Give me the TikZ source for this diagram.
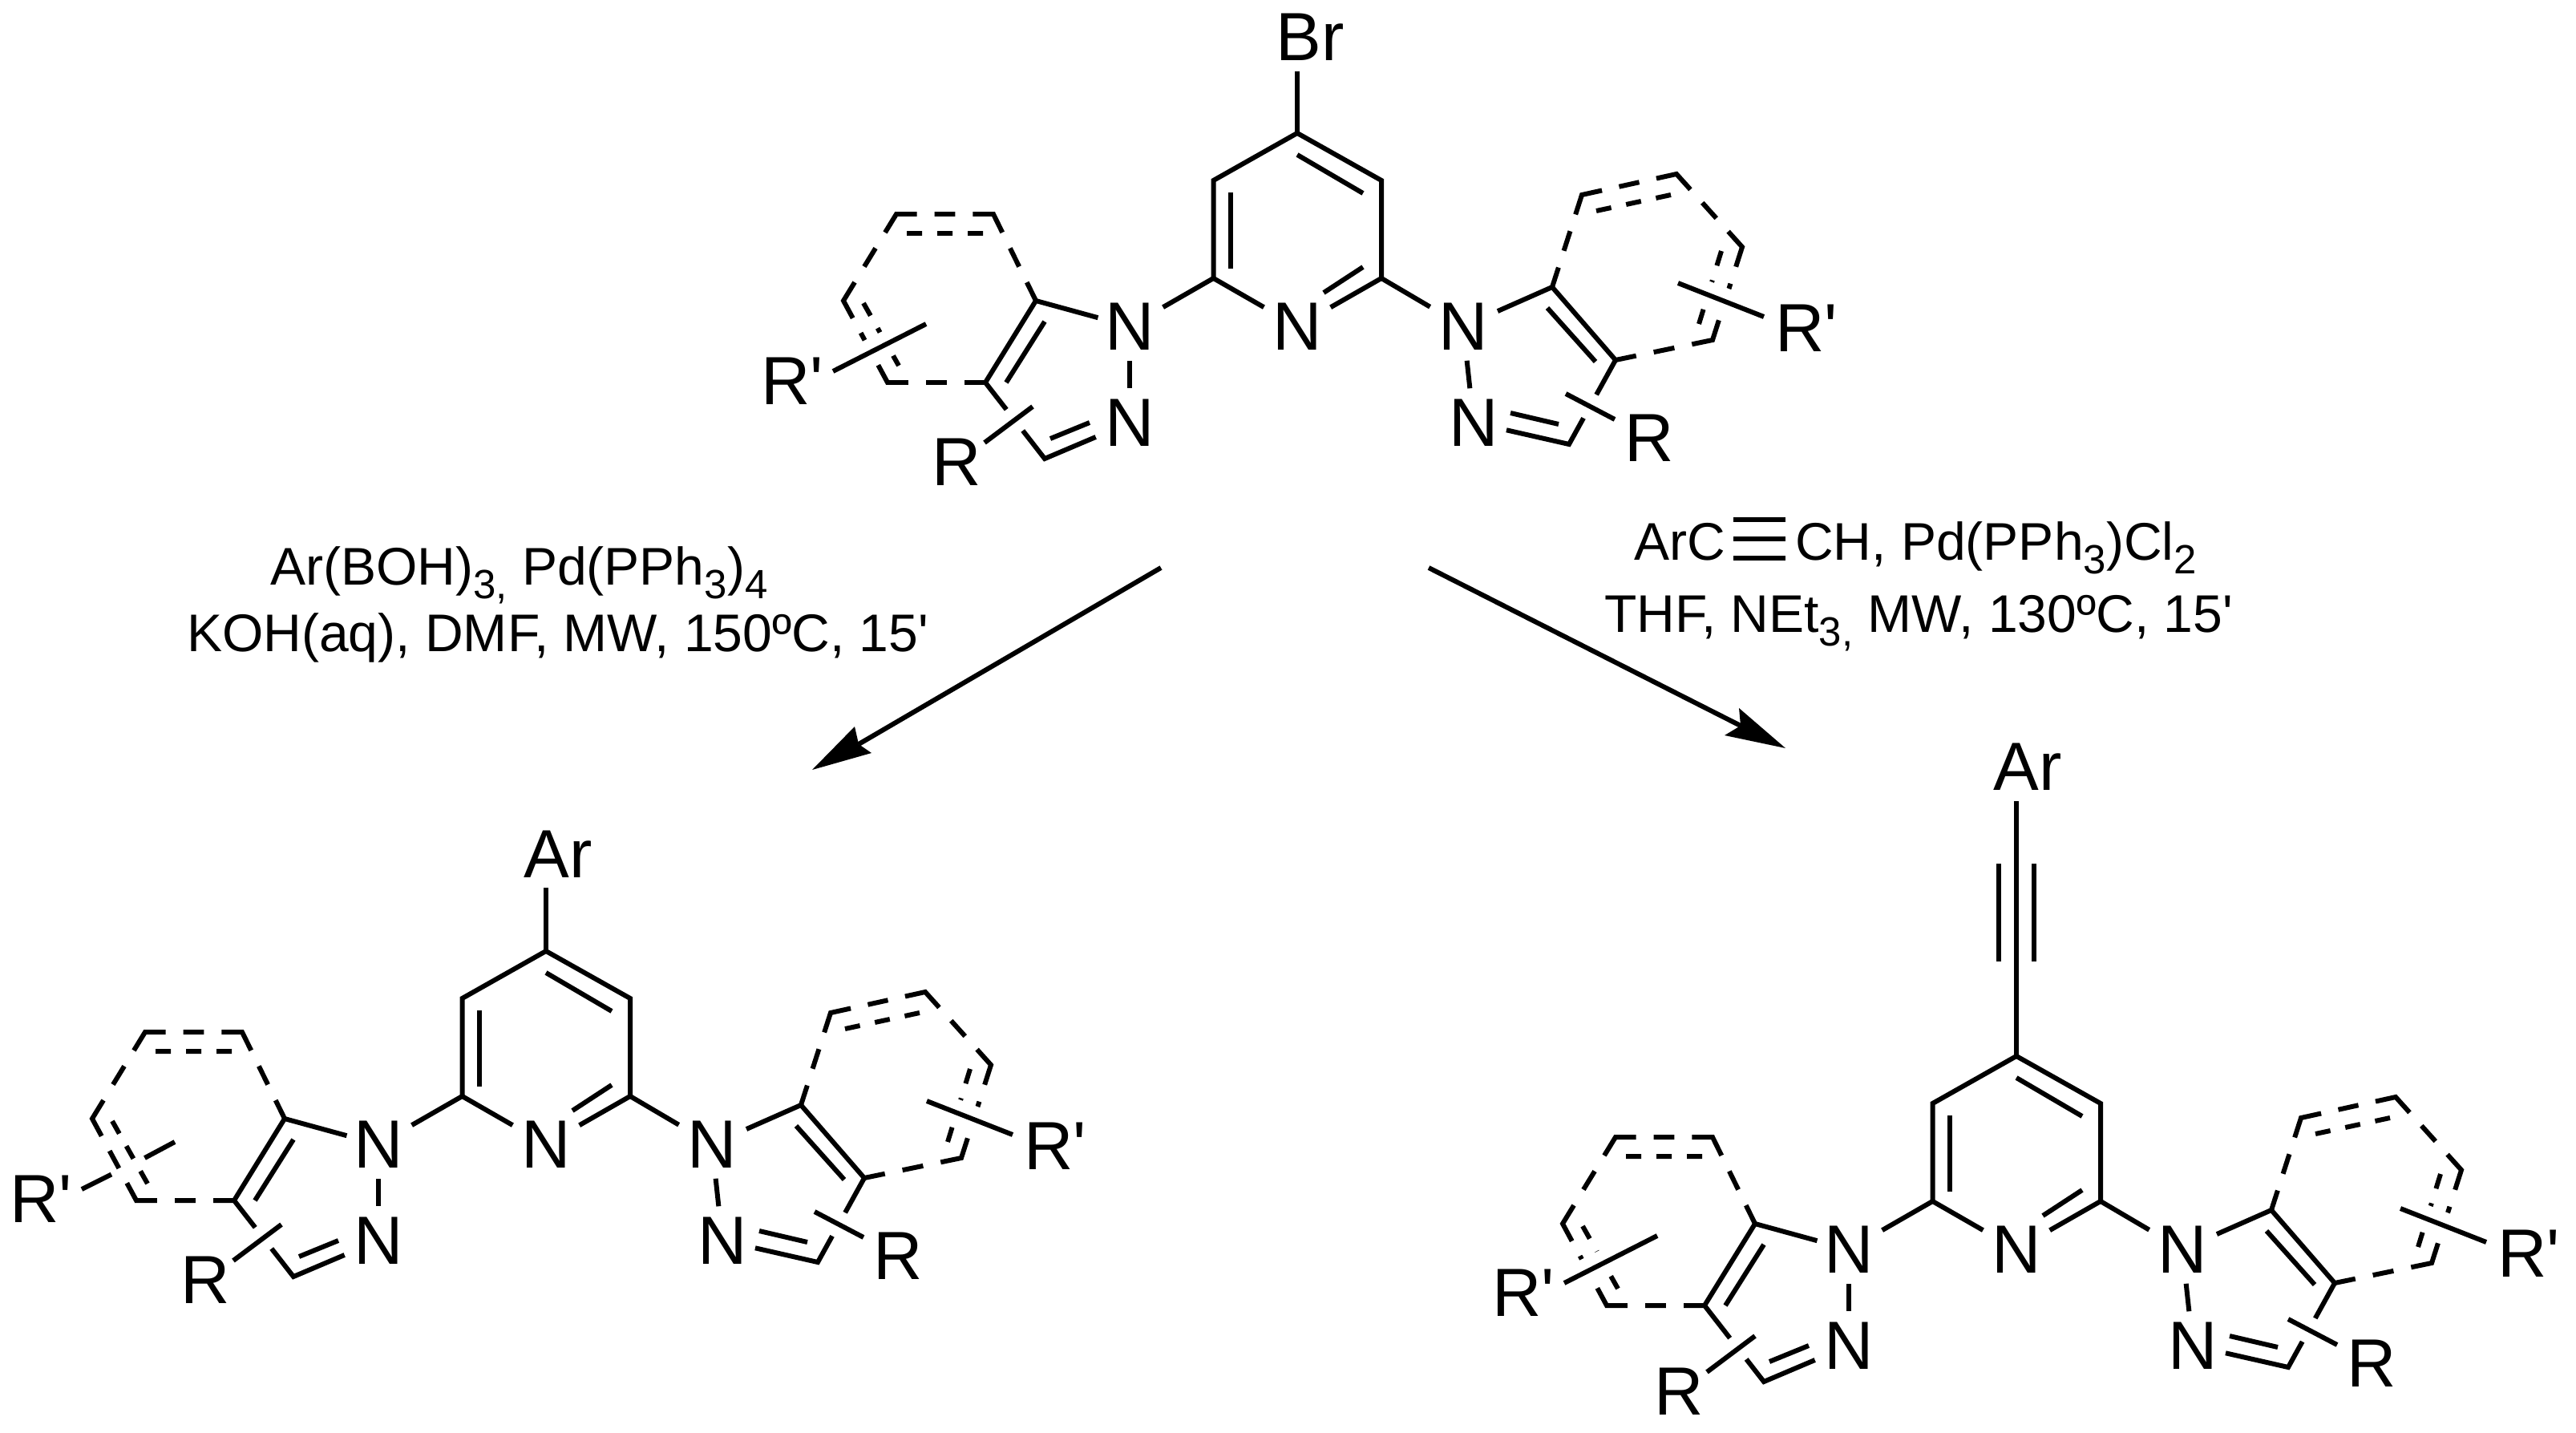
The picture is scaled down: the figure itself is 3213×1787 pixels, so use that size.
\documentclass[tikz,border=0pt]{standalone}
\usepackage{fontspec}
\usetikzlibrary{calc}
\newfontfamily\chemfont{Liberation Sans}
\tikzset{
  bond/.style={line width=3.41pt,line join=miter,miter limit=10},
  halo/.style={line width=18.8pt,white},
  atom/.style={font=\chemfont\fontsize{48.4}{58}\selectfont,inner sep=0pt,outer sep=0pt},
  reag/.style={font=\chemfont\fontsize{37.6}{45}\selectfont,inner sep=0pt,outer sep=0pt,anchor=base west},
  sa/.style={shorten <=#1*0.56906pt},
  se/.style={shorten >=#1*0.56906pt}
}
\newcommand\lowsub[1]{\raisebox{-9.7pt}{\fontsize{29}{32}\selectfont #1}}
\newcommand\dashchain[6]{%
  \draw[bond] (#1)--($(#1)!.2125!(#2)$)
    ($(#1)!.39375!(#2)$)--($(#1)!.60625!(#2)$)
    ($(#2)!.2125!(#1)$)--(#2)--($(#2)!.2125!(#3)$)
    ($(#2)!.39375!(#3)$)--($(#2)!.60625!(#3)$)
    ($(#3)!.2125!(#2)$)--(#3)--($(#3)!.2125!(#4)$)
    ($(#3)!.39375!(#4)$)--($(#3)!.60625!(#4)$)
    ($(#4)!.2125!(#3)$)--(#4)--($(#4)!.2125!(#5)$)
    ($(#4)!.39375!(#5)$)--($(#4)!.60625!(#5)$)
    ($(#5)!.2125!(#4)$)--(#5)--($(#5)!.2125!(#6)$)
    ($(#5)!.39375!(#6)$)--($(#5)!.60625!(#6)$)
    ($(#6)!.2125!(#5)$)--(#6);}
\newcommand\dashinner[2]{%
  \draw[bond] (#1)--($(#1)!.2!(#2)$) ($(#1)!.4!(#2)$)--($(#1)!.6!(#2)$) ($(#1)!.8!(#2)$)--(#2);}
% #1 name, #2 #3 offset, #4 left R shift, #5 left R' shift, #6 right R shift, #7 right R' shift, #8 1 = left R' line runs under the ring
\newcommand\mol[8]{%
\begin{scope}[shift={(#2,#3)}]
  \node[atom] (#1n) at (1618,407) {N};
  \node[atom] (#1nl) at (1409,407) {N};
  \node[atom] (#1nm) at (1409,527) {N};
  \node[atom] (#1nr) at (1825,407) {N};
  \node[atom] (#1ns) at (1838,527) {N};
  % pyridine
  \coordinate (#1c4) at (1618,166);
  \coordinate (#1c3l) at (1513.5,225);
  \coordinate (#1c3r) at (1723,225);
  \coordinate (#1c2l) at (1513.5,347);
  \coordinate (#1c2r) at (1723,347);
  \coordinate (#1pa) at (1535,240);
  \coordinate (#1pb) at (1535,335);
  \coordinate (#1pc) at (1618,193);
  \coordinate (#1pd) at (1700,241);
  \coordinate (#1pe) at (1651,365);
  \coordinate (#1pf) at (1700,333);
  \draw[bond] (#1c2l)--(#1c3l)--(#1c4)--(#1c3r)--(#1c2r);
  \draw[bond,sa=48,se=48] (#1nl.center)--(#1c2l)--(#1n.center);
  \draw[bond,sa=48,se=48] (#1nr.center)--(#1c2r)--(#1n.center);
  \draw[bond] (#1pa)--(#1pb);
  \draw[bond] (#1pc)--(#1pd);
  \draw[bond] (#1pe)--(#1pf);
  % left bicycle
  \coordinate (#1a7a) at (1292,375);
  \coordinate (#1a3a) at (1229,477);
  \coordinate (#1a3) at (1303,572);
  \coordinate (#1a7) at (1239,267);
  \coordinate (#1a6) at (1118,267);
  \coordinate (#1a5) at (1052,375);
  \coordinate (#1a4) at (1107,477);
  \coordinate (#1aa) at (1255,477);
  \coordinate (#1ab) at (1303,401);
  \coordinate (#1ac) at (1310,547);
  \coordinate (#1ad) at (1359,527);
  \coordinate (#1ae) at (1131,291);
  \coordinate (#1af) at (1226,291);
  \coordinate (#1ag) at (1077,378);
  \coordinate (#1ah) at (1121,456);
  \draw[bond,sa=41,se=46] (#1nl.center)--(#1a7a)--(#1a3a)--(#1a3)--(#1nm.center);
  \draw[bond,sa=43,se=43] (#1nl.center)--(#1nm.center);
  \draw[bond] (#1aa)--(#1ab);
  \draw[bond] (#1ac)--(#1ad);
  \dashchain{#1a7a}{#1a7}{#1a6}{#1a5}{#1a4}{#1a3a}
  \dashinner{#1ae}{#1af}
  \dashinner{#1ag}{#1ah}
  % right bicycle
  \coordinate (#1b7a) at (1936,358);
  \coordinate (#1b3a) at (2015,449);
  \coordinate (#1b3) at (1957,554);
  \coordinate (#1b7) at (1973,243);
  \coordinate (#1b6) at (2091,217);
  \coordinate (#1b5) at (2173,308);
  \coordinate (#1b4) at (2136,424);
  \coordinate (#1ba) at (1930,384);
  \coordinate (#1bb) at (1990,451);
  \coordinate (#1bc) at (1944,529);
  \coordinate (#1bd) at (1884,515);
  \coordinate (#1be) at (1991,263);
  \coordinate (#1bf) at (2084,243);
  \coordinate (#1bg) at (2147,313);
  \coordinate (#1bh) at (2119,404);
  \draw[bond,sa=47,se=42] (#1nr.center)--(#1b7a)--(#1b3a)--(#1b3)--(#1ns.center);
  \draw[bond,sa=43,se=43] (#1nr.center)--(#1ns.center);
  \draw[bond] (#1ba)--(#1bb);
  \draw[bond] (#1bc)--(#1bd);
  \dashchain{#1b7a}{#1b7}{#1b6}{#1b5}{#1b4}{#1b3a}
  \dashinner{#1be}{#1bf}
  \dashinner{#1bg}{#1bh}
  % substituents
  \begin{scope}[shift={(#4)}]
    \coordinate (#1ra) at (1228,552);
    \coordinate (#1rb) at (1288,507);
    \draw[halo] (#1ra)--(#1rb);
    \draw[bond] (#1ra)--(#1rb);
    \node[atom] (#1rl) at (1193,576) {R};
  \end{scope}
  \begin{scope}[shift={(#5)}]
    \coordinate (#1qa) at (1039,463);
    \coordinate (#1qb) at (1155,404);
    \coordinate (#1qc) at (1076,444.5);
    \coordinate (#1qd) at (1117.5,424);
    \ifnum#8=1
      \draw[bond] (#1qa)--(#1qc);
      \draw[bond] (#1qd)--(#1qb);
    \else
      \draw[halo] (#1qa)--(#1qb);
      \draw[bond] (#1qa)--(#1qb);
    \fi
    \node[atom] (#1pl) at (988,475) {R'};
  \end{scope}
  \begin{scope}[shift={(#6)}]
    \coordinate (#1sa) at (1953,491);
    \coordinate (#1sb) at (2014,523);
    \draw[halo] (#1sa)--(#1sb);
    \draw[bond] (#1sa)--(#1sb);
    \node[atom] (#1rr) at (2057,546) {R};
  \end{scope}
  \begin{scope}[shift={(#7)}]
    \coordinate (#1ta) at (2093,353);
    \coordinate (#1tb) at (2200,395);
    \draw[halo] (#1ta)--(#1tb);
    \draw[bond] (#1ta)--(#1tb);
    \node[atom] (#1pr) at (2253,409) {R'};
  \end{scope}
\end{scope}}
\begin{document}
\begin{tikzpicture}[x=0.02cm,y=-0.02cm]
  \path[fill=white,use as bounding box] (0,0) rectangle (3213,1787);
  \mol{mA}{0}{0}{0,0}{0,0}{0,0}{0,0}{0}
  \mol{mB}{-937}{1020}{0,0}{0,0}{0,0}{0,0}{1}
  \mol{mC}{897}{1151}{4,8}{15,-14}{4,3}{4,3}{0}
  % top groups
  \node[atom] (br) at (1634,46) {Br};
  \coordinate (brend) at (1618,89);
  \draw[bond] (brend)--(mAc4);
  \node[atom] (arB) at (696,1065) {Ar};
  \coordinate (arBend) at (681,1107);
  \draw[bond] (arBend)--(mBc4);
  \node[atom] (arC) at (2529,956) {Ar};
  \coordinate (arCend) at (2515,999);
  \coordinate (tla) at (2493,1077);
  \coordinate (tlb) at (2493,1199);
  \coordinate (tra) at (2537,1077);
  \coordinate (trb) at (2537,1199);
  \draw[bond] (arCend)--(mCc4);
  \draw[bond] (tla)--(tlb);
  \draw[bond] (tra)--(trb);
  % reagents left
  \node[reag] (l1) at (337,729) {Ar(BOH)\lowsub{3,} Pd(PPh\lowsub{3})\lowsub{4}};
  \node[reag] (l2) at (233,812) {KOH(aq), DMF, MW, 150ºC, 15'};
  % reagents right
  \node[reag] (r1a) at (2038,698) {ArC};
  \node[reag] (r1b) at (2239,698) {CH, Pd(PPh\lowsub{3})Cl\lowsub{2}};
  \node[reag] (r2) at (2001,788) {THF, NEt\lowsub{3,} MW, 130ºC, 15'};
  \coordinate (tba) at (2162,648); \coordinate (tbb) at (2227,648);
  \coordinate (tca) at (2162,672); \coordinate (tcb) at (2227,672);
  \coordinate (tda) at (2162,696); \coordinate (tdb) at (2227,696);
  \draw[bond] (tba)--(tbb);
  \draw[bond] (tca)--(tcb);
  \draw[bond] (tda)--(tdb);
  % arrows
  \coordinate (a1s) at (1448,708);
  \coordinate (a1n) at (1071,928);
  \coordinate (a1t) at (1013,960);
  \coordinate (a1u) at (1066,906);
  \coordinate (a1v) at (1087,939);
  \draw[bond] (a1s)--(a1n);
  \fill (a1t)--(a1u)--(a1n)--(a1v)--cycle;
  \coordinate (a2s) at (1782,708);
  \coordinate (a2n) at (2171,905);
  \coordinate (a2t) at (2227,933);
  \coordinate (a2u) at (2169,883);
  \coordinate (a2v) at (2151,917);
  \draw[bond] (a2s)--(a2n);
  \fill (a2t)--(a2u)--(a2n)--(a2v)--cycle;
\end{tikzpicture}
\end{document}
